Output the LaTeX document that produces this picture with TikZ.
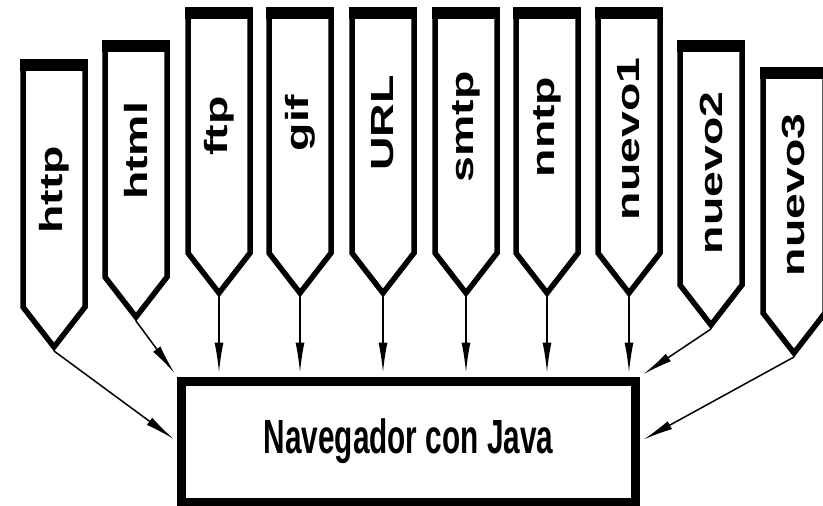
\documentclass[tikz,border=0pt]{standalone}
\usepackage{fontspec}
\setmainfont{Liberation Sans}
\usetikzlibrary{arrows.meta}

\begin{document}
\begin{tikzpicture}[x=1pt,y=-1pt,
  tagline/.style={line width=5.5pt, line join=miter},
  tagtext/.style={rotate=90, inner sep=0pt, font=\fontsize{32}{32}\selectfont\bfseries},
  feed/.style={line width=1.5pt, -{Latex[length=30pt,width=9pt]}, shorten >=4pt},
  navbox/.style={draw, line width=9pt, minimum width=454pt, minimum height=121pt, inner sep=0pt}]
\useasboundingbox (0,0) rectangle (823,506);

% browser box
\node[navbox] (nav) at (408.5,441.5) {\fontsize{48}{48}\selectfont\bfseries\scalebox{0.62}[1]{Navegador con Java}};

% protocol tags
\foreach \name/\cx/\top/\bot/\ty in {http/54/59/307/190, html/136/40/277/151,
    ftp/219/7/253/126, gif/300/7/253/123, URL/383/7/253/123, smtp/466/7/253/127,
    nntp/547/7/253/127, nuevo1/629/7/253/139, nuevo2/711/40/285/173, nuevo3/794/67/313/195}{
  \draw[tagline] (\cx-31,\top+4) -- (\cx-31,\bot) -- (\cx,\bot+40) -- (\cx+31,\bot) -- (\cx+31,\top+4) -- cycle;
  \fill (\cx-34,\top) rectangle (\cx+34,\top+12);
  \coordinate (\name) at (\cx,\bot+44);
  \node[tagtext] (\name-t) at (\cx,\ty) {\scalebox{1.45}[1]{\name}};
}

% connectors
\foreach \name in {ftp,gif,URL,smtp,nntp,nuevo1}
  \draw[feed] (\name) -- (\name |- nav.north);
\draw[feed] (http) -- (nav.west);
\draw[feed] (html) -- (nav.north west);
\draw[feed] (nuevo2) -- (nav.north east);
\draw[feed] (nuevo3) -- (nav.east);
\end{tikzpicture}
\end{document}
